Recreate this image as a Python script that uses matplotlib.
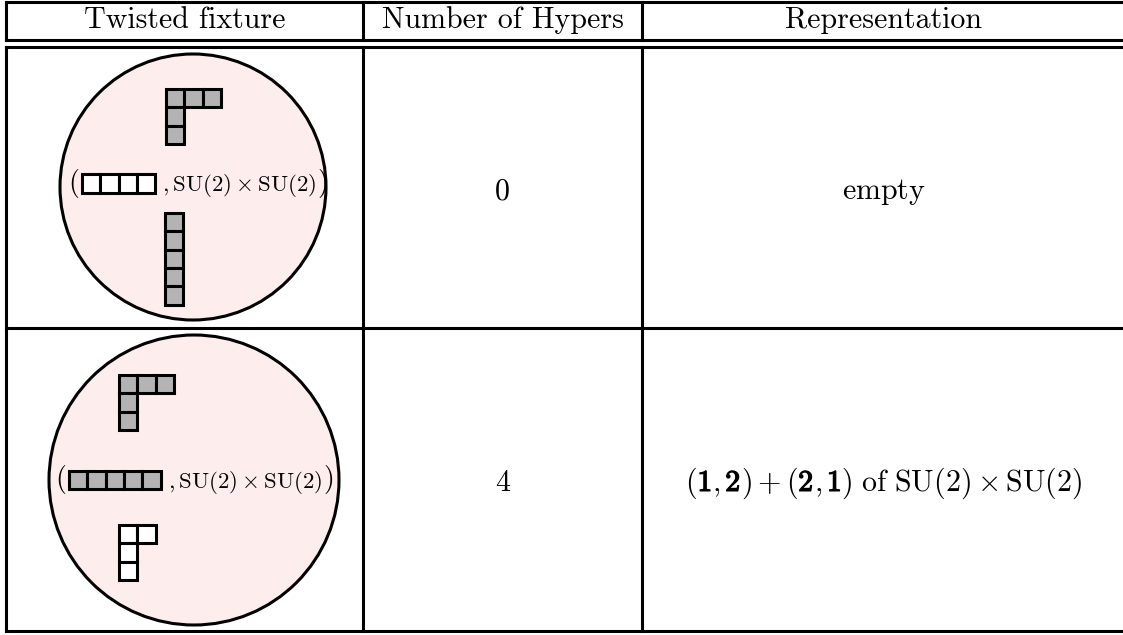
"""
Table of twisted fixtures, hyper counts and representations.
"""

import matplotlib.pyplot as plt
import matplotlib.patheffects as pe
from matplotlib.patches import Circle, Rectangle

plt.rcParams["mathtext.fontset"] = "cm"
plt.rcParams["font.family"] = "cmr10"

# ---- table content ----
headers = ["Twisted fixture", "Number of Hypers", "Representation"]
n_hypers = ["0", "4"]
# representation pieces: (mathtext, bold?, trailing space in em)
representations = [
    [(r"$\mathrm{empty}$", False, 0)],
    [(r"$($", False, 0), (r"$\mathbf{1}$", True, 0), (r"$,$", False, 0.17),
     (r"$\mathbf{2}$", True, 0), (r"$)+($", False, 0), (r"$\mathbf{2}$", True, 0),
     (r"$,$", False, 0.17), (r"$\mathbf{1}$", True, 0),
     (r"$)\ \mathrm{of}\ \mathrm{SU}(2)\times\mathrm{SU}(2)$", False, 0)],
]

# Young diagrams (row lengths) for each fixture: top, middle, bottom
top_diagrams = [[3, 1, 1], [3, 1, 1]]
mid_diagrams = [[4], [5]]
bot_diagrams = [[1, 1, 1, 1, 1], [2, 1, 1]]
top_shaded = [True, True]
mid_shaded = [False, True]
bot_shaded = [True, False]
flavour = r"$,\mathrm{SU}(2)\times\mathrm{SU}(2)$"

# ---- layout (pixel units) ----
W, H = 1123, 635
col_x = [6, 363, 642, 1126]
row_y = [2, 40, 47, 328, 631]
BOX = 18.3
LW = 2.2
FS = 21.6
GRAY = "#b3b3b3"
PINK = "#fdeded"

circ = [(193, 187, 133), (194, 480, 145)]
top_at = [(166, 89), (119, 375)]
mid_at = [(82, 183.5), (69, 480)]
bot_at = [(165, 213), (119, 525)]
body_base = [199, 491]


def young(ax, x0, y0, rows, shaded):
    fc = GRAY if shaded else "white"
    for r, n in enumerate(rows):
        for c in range(n):
            ax.add_patch(Rectangle((x0 + c * BOX, y0 + r * BOX), BOX, BOX,
                                   facecolor=fc, edgecolor="black", lw=LW, zorder=3))


def text_width(t):
    bb = t.get_window_extent(renderer)
    a = inv.transform((bb.x0, bb.y0))
    b = inv.transform((bb.x1, bb.y0))
    return b[0] - a[0]


def runs(ax, xc, yb, pieces, fs):
    # lay out mathtext pieces left to right, centred on xc
    em = fs * 100 / 72
    objs = []
    for s, bold, _ in pieces:
        t = ax.text(0, yb, s, ha="left", va="baseline", fontsize=fs, zorder=4)
        if bold:
            t.set_path_effects([pe.withStroke(linewidth=0.9, foreground="black")])
        objs.append(t)
    widths = [text_width(t) + g * em for t, (_, _, g) in zip(objs, pieces)]
    x = xc - sum(widths) / 2
    for t, w in zip(objs, widths):
        t.set_x(x)
        x += w


fig = plt.figure(figsize=(W / 100, H / 100), dpi=100)
ax = fig.add_axes([0, 0, 1, 1])
ax.set_xlim(0, W)
ax.set_ylim(H, 0)
ax.axis("off")
renderer = fig.canvas.get_renderer()
inv = ax.transData.inverted()

# grid lines
for y in row_y:
    ax.plot([col_x[0], col_x[-1]], [y, y], color="black", lw=LW, solid_capstyle="projecting")
for x in col_x:
    ax.plot([x, x], [row_y[0], row_y[1]], color="black", lw=LW, solid_capstyle="projecting")
    ax.plot([x, x], [row_y[2], row_y[-1]], color="black", lw=LW, solid_capstyle="projecting")

# headers
for i, h in enumerate(headers):
    ax.text((col_x[i] + col_x[i + 1]) / 2, 28.5, h,
            ha="center", va="baseline", fontsize=FS)

# body rows
for i in range(2):
    cx, cy, r = circ[i]
    ax.add_patch(Circle((cx, cy), r, facecolor=PINK, edgecolor="black", lw=LW, zorder=2))
    young(ax, *top_at[i], top_diagrams[i], top_shaded[i])
    mx, my = mid_at[i]
    young(ax, mx, my - BOX / 2, mid_diagrams[i], mid_shaded[i])
    ax.text(mx - 3, my, r"$($", ha="right", va="center", fontsize=20, zorder=4)
    t = ax.text(mx + max(mid_diagrams[i]) * BOX + 7, my + 2, flavour,
                ha="left", va="center", fontsize=16.5, zorder=4)
    x_end = t.get_position()[0] + text_width(t)
    ax.text(x_end + 1, my, r"$)$", ha="left", va="center", fontsize=20, zorder=4)
    young(ax, *bot_at[i], bot_diagrams[i], bot_shaded[i])

    ax.text((col_x[1] + col_x[2]) / 2, body_base[i], n_hypers[i],
            ha="center", va="baseline", fontsize=FS)
    runs(ax, (col_x[2] + col_x[3]) / 2, body_base[i], representations[i], FS)

fig.savefig("out.png", dpi=100)
